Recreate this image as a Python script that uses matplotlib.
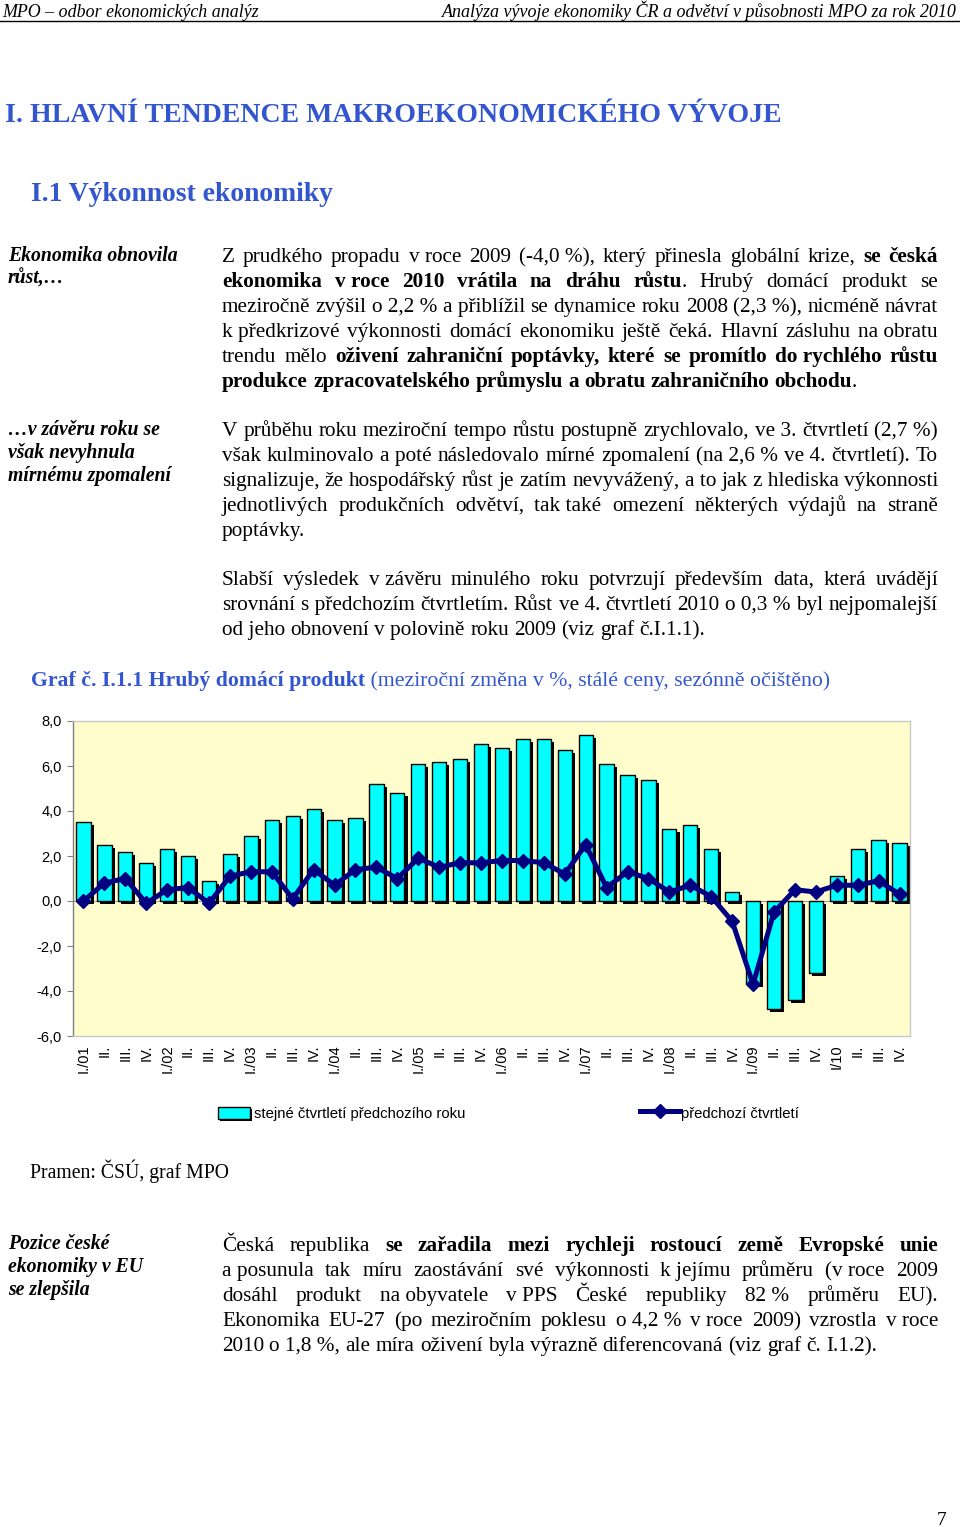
import matplotlib
matplotlib.use('Agg')
import matplotlib.pyplot as plt
import matplotlib.patheffects as pe
from matplotlib.transforms import IdentityTransform
from matplotlib.patches import Rectangle
from matplotlib.lines import Line2D

# ---------------- data ----------------
quarters = ["I./01", "II.", "III.", "IV.", "I./02", "II.", "III.", "IV.",
            "I./03", "II.", "III.", "IV.", "I./04", "II.", "III.", "IV.",
            "I./05", "II.", "III.", "IV.", "I./06", "II.", "III.", "IV.",
            "I./07", "II.", "III.", "IV.", "I./08", "II.", "III.", "IV.",
            "I./09", "II.", "III.", "IV.", "I/10", "II.", "III.", "IV."]
yoy = [3.5, 2.5, 2.2, 1.7, 2.3, 2.0, 0.9, 2.1,
       2.9, 3.6, 3.8, 4.1, 3.6, 3.7, 5.2, 4.8,
       6.1, 6.2, 6.3, 7.0, 6.8, 7.2, 7.2, 6.7,
       7.4, 6.1, 5.6, 5.4, 3.2, 3.4, 2.3, 0.4,
       -3.7, -4.8, -4.4, -3.2, 1.1, 2.3, 2.7, 2.6]
qoq = [0.0, 0.8, 1.0, -0.1, 0.5, 0.6, -0.1, 1.1,
       1.3, 1.3, 0.1, 1.4, 0.7, 1.4, 1.5, 1.0,
       1.9, 1.5, 1.7, 1.7, 1.8, 1.8, 1.7, 1.2,
       2.5, 0.6, 1.3, 1.0, 0.4, 0.7, 0.2, -0.9,
       -3.7, -0.5, 0.5, 0.4, 0.7, 0.7, 0.9, 0.3]
yticks = [8, 6, 4, 2, 0, -2, -4, -6]
ytick_labels = ["8,0", "6,0", "4,0", "2,0", "0,0", "-2,0", "-4,0", "-6,0"]
legend_labels = ["stejné čtvrtletí předchozího roku", "předchozí čtvrtletí"]

# ---------------- page setup ----------------
W, H = 960, 1527
fig = plt.figure(figsize=(W / 100, H / 100), dpi=100)
fig.patch.set_facecolor('white')
R = fig.canvas.get_renderer()
ID = IdentityTransform()
SERIF = 'Liberation Serif'
SANS = 'Liberation Sans'
BLUE = '#3356CF'
BODY = 15.3


def T(x, ytop, s, **kw):
    return fig.text(x, H - ytop, s, transform=ID, **kw)


def wid(t):
    return t.get_window_extent(renderer=R).width


def runs(x, ytop, parts, size, fit=None, color='black', style='normal', family=SERIF):
    """parts: list of (text, weight)."""
    arts = [T(x, ytop, s, fontsize=size, fontweight=w, fontstyle=style,
              family=family, color=color, va='baseline', ha='left') for s, w in parts]
    if fit is not None:
        tot = sum(wid(a) for a in arts)
        ns = size * fit / tot
        for a in arts:
            a.set_fontsize(ns)
    xx = x
    for a in arts:
        a.set_x(xx)
        xx += wid(a)
    return arts


def parse(line):
    words = []
    bold = False
    for w in line.split(' '):
        pieces = []
        for k, p in enumerate(w.split('*')):
            if k > 0:
                bold = not bold
            if p:
                pieces.append((p.replace('~', ' '), bold))
        words.append(pieces)
    return words


def draw_line(line, ytop, x0, x1, justify, size=BODY, style='normal'):
    words = parse(line)
    arts, widths = [], []
    for pieces in words:
        ws = []
        for txt, b in pieces:
            t = T(0, ytop, txt, fontsize=size, family=SERIF, fontstyle=style,
                  fontweight='bold' if b else 'normal', va='baseline', ha='left')
            ws.append((t, wid(t)))
        arts.append(ws)
        widths.append(sum(w for _, w in ws))
    n = len(words)
    sp = size * 100 / 72 * 0.25
    gap = (x1 - x0 - sum(widths)) / (n - 1) if (justify and n > 1) else sp
    x = x0
    for ws, wd in zip(arts, widths):
        xx = x
        for t, w in ws:
            t.set_x(xx)
            xx += w
        x += wd + gap


def para(lines, base0, lh=25, x0=222, x1=938):
    for i, ln in enumerate(lines):
        draw_line(ln, base0 + i * lh, x0, x1, i < len(lines) - 1)


def side(lines, base0, lh=23):
    for i, ln in enumerate(lines):
        T(8, base0 + i * lh, ln, fontsize=14.2, family=SERIF, fontstyle='italic',
          fontweight='bold', va='baseline', ha='left')


# header
runs(2, 17, [("MPO – odbor ekonomických analýz", 'normal')], 12, fit=256, style='italic')
hr = runs(0, 17, [("Analýza vývoje ekonomiky ČR a odvětví v působnosti MPO za rok 2010", 'normal')],
          12, fit=514, style='italic')
hr[0].set_x(957 - wid(hr[0]))
fig.add_artist(Line2D([0, 1], [1 - 21 / H, 1 - 21 / H], color='black', lw=1.0))

# headings
runs(5, 122, [("I. HLAVNÍ TENDENCE MAKROEKONOMICKÉHO VÝVOJE", 'bold')], 20, fit=775, color=BLUE)
runs(31, 201, [("I.1 Výkonnost ekonomiky", 'bold')], 18, fit=302, color=BLUE)

# side notes
side(["Ekonomika obnovila", "růst,…"], 261)
side(["…v závěru roku se", "však nevyhnula", "mírnému zpomalení"], 435)
side(["Pozice české", "ekonomiky v EU", "se zlepšila"], 1249)

# paragraphs
para(["Z prudkého propadu v~roce 2009 (-4,0~%), který přinesla globální krize, *se česká*",
      "*ekonomika v~roce 2010 vrátila na dráhu růstu*. Hrubý domácí produkt se",
      "meziročně zvýšil o~2,2~% a~přiblížil se dynamice roku 2008 (2,3~%), nicméně návrat",
      "k~předkrizové výkonnosti domácí ekonomiku ještě čeká. Hlavní zásluhu na~obratu",
      "trendu mělo *oživení zahraniční poptávky, které se promítlo do~rychlého růstu*",
      "*produkce zpracovatelského průmyslu a obratu zahraničního obchodu*."], 262)
para(["V průběhu roku meziroční tempo růstu postupně zrychlovalo, ve~3. čtvrtletí (2,7~%)",
      "však kulminovalo a~poté následovalo mírné zpomalení (na~2,6~% ve~4. čtvrtletí). To",
      "signalizuje, že hospodářský růst je zatím nevyvážený, a~to jak z~hlediska výkonnosti",
      "jednotlivých produkčních odvětví, tak~také omezení některých výdajů na straně",
      "poptávky."], 436)
para(["Slabší výsledek v~závěru minulého roku potvrzují především data, která uvádějí",
      "srovnání s~předchozím čtvrtletím. Růst ve~4. čtvrtletí 2010 o~0,3~% byl nejpomalejší",
      "od~jeho obnovení v~polovině roku 2009 (viz graf č.I.1.1)."], 585)

# chart title
runs(31, 686, [("Graf č. I.1.1 Hrubý domácí produkt", 'bold'),
               (" (meziroční změna v %, stálé ceny, sezónně očištěno)", 'normal')],
     15, fit=799, color=BLUE)

# ---------------- chart ----------------
ax = fig.add_axes([73 / W, 1 - 1036 / H, 837 / W, 315 / H])
ax.set_facecolor('#FFFDCC')
x = list(range(len(quarters)))
bars = ax.bar(x, yoy, width=0.68, color='#00FFFF', edgecolor='black', linewidth=1.0, zorder=2)
for b in bars:
    b.set_path_effects([pe.SimplePatchShadow(offset=(2.2, -2.2), shadow_rgbFace='black', alpha=1.0),
                        pe.Normal()])
ax.plot(x, qoq, color='#000080', lw=3.6, marker='D', markersize=7.5, zorder=4)
ax.axhline(0, color='#A0A0A0', lw=0.8, zorder=1)
ax.set_xlim(-0.5, len(quarters) - 0.5)
ax.set_ylim(-6, 8)
ax.set_yticks(yticks)
ax.set_yticklabels(ytick_labels, fontsize=10.5, family=SANS)
ax.set_xticks(x)
ax.set_xticklabels(quarters, rotation=90, fontsize=10.5, family=SANS, va='top', ha='center')
ax.tick_params(axis='x', length=0, pad=6)
ax.tick_params(axis='y', length=4, width=0.8, color='#808080', pad=4, direction='out')
for s in ['top', 'right', 'bottom']:
    ax.spines[s].set_color('#C8C8C8')
    ax.spines[s].set_linewidth(1.0)
ax.spines['left'].set_color('#808080')
ax.spines['left'].set_linewidth(1.0)

# legend (manual)
rect = Rectangle((218 / W, 1 - 1119 / H), 32 / W, 12 / H, transform=fig.transFigure,
                 facecolor='#00FFFF', edgecolor='black', lw=1.0)
rect.set_path_effects([pe.SimplePatchShadow(offset=(1.5, -1.5), shadow_rgbFace='black', alpha=1.0),
                       pe.Normal()])
fig.add_artist(rect)
T(254, 1118, legend_labels[0], fontsize=10.7, family=SANS, va='baseline', ha='left')
fig.add_artist(Line2D([640 / W, 680 / W], [1 - 1111 / H] * 2, color='#000080', lw=3.6))
fig.add_artist(Line2D([660 / W], [1 - 1111 / H], color='#000080', marker='D', markersize=7.5))
T(681, 1118, legend_labels[1], fontsize=10.7, family=SANS, va='baseline', ha='left')

# source
T(30, 1178, "Pramen: ČSÚ, graf MPO", fontsize=14.2, family=SERIF, va='baseline', ha='left')

# last paragraph
para(["Česká republika *se zařadila mezi rychleji rostoucí země Evropské unie*",
      "a~posunula tak míru zaostávání své výkonnosti k~jejímu průměru (v~roce 2009",
      "dosáhl produkt na~obyvatele v~PPS České republiky 82~% průměru EU).",
      "Ekonomika EU-27 (po meziročním poklesu o~4,2~% v~roce 2009) vzrostla v~roce",
      "2010 o~1,8~%, ale míra oživení byla výrazně diferencovaná (viz graf č. I.1.2)."], 1251)

# page number
T(937, 1525, "7", fontsize=14, family=SERIF, va='baseline', ha='left')

fig.savefig('out.png', dpi=100, facecolor='white')
